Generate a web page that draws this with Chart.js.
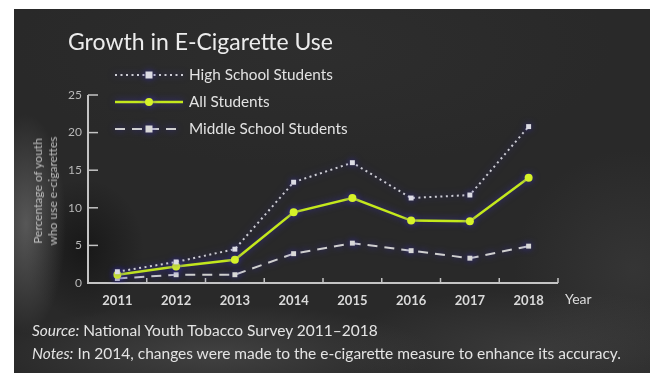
<!DOCTYPE html>
<html><head><meta charset="utf-8">
<script src="https://cdn.jsdelivr.net/npm/chart.js@4.4.0/dist/chart.umd.min.js"></script>
<style>
html,body{margin:0;padding:0;background:#fff;width:655px;height:377px;overflow:hidden;font-family:Lato,"Open Sans",sans-serif;}
#panel{position:absolute;left:14px;top:9px;width:636px;height:364px;
background:
 radial-gradient(ellipse 40px 110px at 12px 215px, rgba(125,125,125,0.55), rgba(0,0,0,0)),
 radial-gradient(ellipse 60px 70px at 70px 240px, rgba(10,10,10,0.55), rgba(0,0,0,0)),
 radial-gradient(ellipse 220px 50px at 200px 345px, rgba(95,95,95,0.45), rgba(0,0,0,0)),
 radial-gradient(ellipse 200px 60px at 520px 340px, rgba(90,90,90,0.35), rgba(0,0,0,0)),
 radial-gradient(ellipse 120px 120px at 620px 260px, rgba(80,80,80,0.3), rgba(0,0,0,0)),
 radial-gradient(ellipse 300px 120px at 300px 40px, rgba(60,60,60,0.25), rgba(0,0,0,0)),
 #292929;}
#c{position:absolute;left:0;top:0;}
.t{position:absolute;color:#e4e4e4;white-space:nowrap;line-height:1;}
#title{left:68px;top:30px;font-size:23px;color:#ececec;}
#year{left:565px;top:292px;font-size:14px;color:#dcdcdc;}
#src{left:32px;top:323px;font-size:15.5px;}
#notes{left:32px;top:346px;font-size:15.5px;}
#ytitle{left:45px;top:191px;font-size:12px;color:#bdbdbd;transform:translate(-50%,-50%) rotate(-90deg);text-align:center;line-height:15px;}
</style></head>
<body>
<div id="panel"></div>
<canvas id="c" width="655" height="377"></canvas>
<div class="t" id="title">Growth in E-Cigarette Use</div>
<div class="t" id="year">Year</div>
<div class="t" id="ytitle">Percentage of youth<br>who use e-cigarettes</div>
<div class="t" id="src"><i>Source:</i> National Youth Tobacco Survey 2011–2018</div>
<div class="t" id="notes"><i>Notes:</i> In 2014, changes were made to the e-cigarette measure to enhance its accuracy.</div>
<script>
const years = ['2011','2012','2013','2014','2015','2016','2017','2018'];
const seriesNames = ['High School Students','All Students','Middle School Students'];
const highSchool = [1.5, 2.8, 4.5, 13.4, 16.0, 11.3, 11.7, 20.8];
const allStudents = [1.1, 2.2, 3.1, 9.4, 11.3, 8.3, 8.2, 14.0];
const middleSchool = [0.6, 1.1, 1.1, 3.9, 5.3, 4.3, 3.3, 4.9];
const yTicks = [0, 5, 10, 15, 20, 25];

const AX = '#c4c4c4';

const glow = {
  id:'glow',
  beforeDatasetsDraw(chart){ const c=chart.ctx; c.save(); c.shadowColor='rgba(60,50,190,0.75)'; c.shadowBlur=7; },
  afterDatasetsDraw(chart){ chart.ctx.restore(); }
};

const axes = {
  id:'axes',
  beforeDatasetsDraw(chart){
    const c=chart.ctx, a=chart.chartArea, xs=chart.scales.x, ys=chart.scales.y;
    c.save();
    c.strokeStyle=AX; c.lineWidth=2; c.lineCap='butt';
    c.beginPath();
    c.moveTo(a.left, ys.getPixelForValue(yTicks[yTicks.length-1]));
    c.lineTo(a.left, a.bottom);
    c.lineTo(a.right, a.bottom);
    c.stroke();
    c.lineWidth=1.5;
    yTicks.forEach(v=>{ if(v===0) return; const y=ys.getPixelForValue(v); c.beginPath(); c.moveTo(a.left,y); c.lineTo(a.left+10,y); c.stroke(); });
    const n=years.length;
    for(let i=0;i<=n;i++){
      let x;
      if(i===0) x=a.left; else if(i===n) x=a.right;
      else x=(xs.getPixelForValue(i-1)+xs.getPixelForValue(i))/2;
      c.beginPath(); c.moveTo(x,a.bottom); c.lineTo(x,a.bottom-5); c.stroke();
    }
    c.restore();
  }
};

const legend = {
  id:'customLegend',
  afterDraw(chart){
    const c=chart.ctx;
    c.save();
    chart.data.datasets.forEach((ds,i)=>{
      const y=75+i*27;
      c.save();
      c.shadowColor='rgba(60,50,190,0.75)'; c.shadowBlur=7;
      c.strokeStyle=ds.borderColor; c.lineWidth=ds.borderWidth; c.setLineDash(ds.borderDash||[]);
      c.beginPath(); c.moveTo(115,y); c.lineTo(183,y); c.stroke();
      c.setLineDash([]);
      c.fillStyle=ds.pointBackgroundColor;
      if(ds.pointStyle==='rect'){ c.fillRect(149-3.5,y-3.5,7,7); }
      else { c.beginPath(); c.arc(149,y,4,0,Math.PI*2); c.fill(); }
      c.restore();
      c.fillStyle='#e2e2e2'; c.font='15.3px Lato, sans-serif'; c.textBaseline='middle';
      c.fillText(ds.label,189,y);
    });
    c.restore();
  }
};

new Chart(document.getElementById('c'), {
  type:'line',
  data:{
    labels:years,
    datasets:[
      {label:seriesNames[0], data:highSchool, borderColor:'#cdcdd4', borderWidth:2, borderDash:[2,3.5],
       pointStyle:'rect', pointRadius:3.5, pointBackgroundColor:'#dcdce4', pointBorderWidth:0, tension:0},
      {label:seriesNames[1], data:allStudents, borderColor:'#c4e81c', borderWidth:2.5,
       pointStyle:'circle', pointRadius:4, pointBackgroundColor:'#d6f228', pointBorderWidth:0, tension:0},
      {label:seriesNames[2], data:middleSchool, borderColor:'#cfcfcf', borderWidth:2, borderDash:[10,7],
       pointStyle:'rect', pointRadius:3.5, pointBackgroundColor:'#d8d8d8', pointBorderWidth:0, tension:0}
    ]
  },
  options:{
    responsive:false, animation:false, devicePixelRatio:1,
    layout:{padding:{top:95,right:97,bottom:64,left:0}},
    plugins:{legend:{display:false}, tooltip:{enabled:false}},
    scales:{
      x:{ offset:true, grid:{display:false, drawTicks:false}, border:{display:false},
          ticks:{color:'#dadada', font:{family:'Lato', size:13, weight:'bold'}, padding:10, maxRotation:0},
          afterFit(s){ s.height=30; } },
      y:{ min:0, max:25, grid:{display:false, drawTicks:false}, border:{display:false},
          afterBuildTicks(s){ s.ticks = yTicks.map(v=>({value:v})); },
          ticks:{color:'#b8b8b8', font:{family:'Lato', size:12}, padding:6},
          afterFit(s){ s.width=88; } }
    }
  },
  plugins:[axes, glow, legend]
});
</script>
</body></html>
